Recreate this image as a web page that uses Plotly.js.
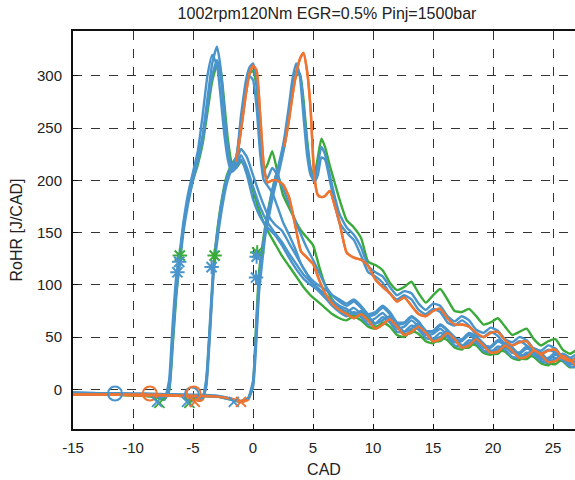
<!DOCTYPE html>
<html><head><meta charset="utf-8">
<script src="https://cdn.plot.ly/plotly-3.0.1.min.js"></script>
<style>html,body{margin:0;padding:0;background:#fff}#chart{width:575px;height:480px}</style>
</head><body><div id="chart"></div>
<script>
// ---- data (CAD grids, RoHR values) ----
const xA = [-15, -12, -9.5, -8, -7.4, -7.0, -6.7, -6.4, -6.1, -5.8, -5.4, -5.0, -4.6, -4.2, -3.8, -3.4, -3.0, -2.7, -2.4, -2.1, -1.8, -1.4, -1.0, -0.5, 0, 0.6, 1.2, 1.8, 2.4, 3.0, 3.6, 4.2, 4.8, 5.4, 6.0, 6.6, 7.2,
  7.8, 8.4, 9.0, 9.6, 10.2, 10.8, 11.4, 12.0, 12.6, 13.2, 13.8, 14.4, 15.0, 15.6, 16.2, 16.8, 17.4, 18.0, 18.6, 19.2, 19.8, 20.4, 21.0, 21.6, 22.2, 22.8, 23.4, 24.0, 24.6, 25.2, 25.8, 26.4, 27.0];
const xB = [-15, -12, -9, -6.5, -5, -4.5, -4.2, -3.9, -3.6, -3.3, -3.0, -2.6, -2.2, -1.8, -1.4, -1.0, -0.6, -0.3, 0, 0.3, 0.6, 0.9, 1.2, 1.6, 2.0, 2.5, 3.0, 3.5, 4.0, 4.5, 5.0, 5.5, 6.0, 6.6, 7.2,
  7.8, 8.4, 9.0, 9.6, 10.2, 10.8, 11.4, 12.0, 12.6, 13.2, 13.8, 14.4, 15.0, 15.6, 16.2, 16.8, 17.4, 18.0, 18.6, 19.2, 19.8, 20.4, 21.0, 21.6, 22.2, 22.8, 23.4, 24.0, 24.6, 25.2, 25.8, 26.4, 27.0];
const xC = [-15, -12, -9, -6, -3, -1.8, -1.0, -0.4, 0, 0.25, 0.5, 0.75, 1.0, 1.4, 1.8, 2.2, 2.6, 3.0, 3.3, 3.6, 3.9, 4.2, 4.5, 4.8, 5.1, 5.4, 5.7, 6.0, 6.4, 6.8, 7.2,
  7.8, 8.4, 9.0, 9.6, 10.2, 10.8, 11.4, 12.0, 12.6, 13.2, 13.8, 14.4, 15.0, 15.6, 16.2, 16.8, 17.4, 18.0, 18.6, 19.2, 19.8, 20.4, 21.0, 21.6, 22.2, 22.8, 23.4, 24.0, 24.6, 25.2, 25.8, 26.4, 27.0];

const yA1 = [-4, -4, -5, -7, -9, 2, 50, 98, 125, 155, 183, 205, 222, 243, 278, 312, 328, 308, 268, 232, 212, 214, 224, 212, 194, 174, 160, 150, 141, 130, 120, 110, 103, 97, 91, 85, 80,
  77, 72, 75, 70, 63, 66, 70, 62, 55, 58, 63, 56, 48, 50, 56, 50, 42, 44, 50, 44, 37, 38, 44, 40, 33, 33, 39, 35, 28, 28, 34, 30, 24];
const yA2 = [-3, -4, -5, -6, -10, 8, 62, 108, 132, 160, 188, 208, 228, 262, 300, 320, 310, 280, 245, 220, 208, 212, 220, 205, 182, 165, 155, 148, 138, 126, 115, 106, 100, 95, 88, 82, 78,
  74, 78, 72, 65, 68, 73, 66, 58, 60, 66, 60, 52, 53, 58, 52, 45, 46, 52, 47, 40, 40, 46, 42, 35, 35, 41, 37, 30, 30, 35, 31, 25, 26];
const yA3 = [-4, -5, -5, -6, -8, 0, 45, 92, 120, 150, 178, 200, 218, 238, 270, 300, 315, 300, 262, 228, 210, 218, 230, 222, 205, 185, 168, 158, 152, 140, 128, 116, 106, 100, 96, 90, 86,
  82, 86, 80, 72, 74, 80, 74, 64, 64, 70, 65, 56, 56, 62, 57, 48, 48, 54, 50, 42, 41, 47, 44, 36, 35, 40, 37, 30, 29, 34, 31, 25, 24];
const yA4 = [-5, -5, -6, -8, -10, -2, 40, 88, 126, 156, 182, 200, 215, 235, 265, 295, 310, 305, 275, 240, 218, 212, 218, 210, 190, 168, 152, 140, 128, 118, 108, 98, 90, 84, 78, 72, 68,
  66, 70, 66, 60, 58, 64, 60, 52, 50, 56, 53, 46, 44, 50, 47, 40, 38, 44, 42, 35, 33, 38, 36, 30, 28, 33, 31, 25, 23, 28, 27, 21, 22];

const yB1 = [-5, -5, -5, -6, -8, -11, -10, 5, 55, 112, 145, 176, 200, 212, 218, 248, 282, 302, 310, 305, 262, 214, 198, 200, 200, 196, 184, 158, 132, 126, 120, 105, 92, 82, 76,
  72, 68, 72, 66, 58, 62, 67, 60, 52, 55, 60, 54, 46, 48, 54, 48, 40, 42, 48, 42, 35, 36, 42, 37, 30, 31, 37, 33, 26, 27, 32, 28, 22];
const yB2 = [-4, -4, -5, -5, -7, -10, -8, 10, 62, 118, 148, 180, 202, 214, 222, 262, 295, 308, 312, 295, 245, 208, 202, 212, 206, 192, 178, 162, 148, 135, 124, 112, 100, 90, 84,
  80, 84, 78, 70, 72, 78, 72, 62, 63, 69, 64, 55, 55, 61, 56, 47, 47, 53, 49, 41, 40, 46, 43, 35, 34, 39, 36, 29, 28, 33, 30, 24, 25];
const yB3 = [-3, -4, -4, -5, -6, -9, -8, 2, 50, 108, 140, 172, 196, 210, 218, 250, 285, 300, 296, 270, 225, 200, 195, 188, 176, 160, 148, 135, 120, 110, 100, 94, 88, 80, 74,
  70, 74, 69, 62, 63, 69, 64, 55, 55, 61, 57, 49, 48, 54, 50, 42, 41, 47, 44, 37, 35, 41, 38, 31, 30, 35, 33, 27, 25, 30, 28, 22, 21];
const yB4 = [-5, -5, -6, -6, -8, -11, -9, 6, 58, 114, 150, 182, 204, 215, 222, 255, 288, 302, 305, 290, 240, 210, 215, 228, 210, 186, 174, 162, 152, 145, 138, 118, 100, 86, 78,
  74, 70, 74, 68, 60, 62, 68, 62, 53, 54, 60, 55, 46, 46, 52, 48, 40, 40, 46, 42, 34, 34, 40, 37, 30, 29, 34, 32, 25, 24, 29, 27, 21];

const yC1 = [-5, -5, -6, -6, -7, -9, -12, -10, 5, 48, 100, 128, 150, 175, 198, 214, 232, 258, 282, 302, 316, 322, 305, 268, 205, 186, 184, 185, 190, 176, 160,
  131, 126, 124, 118, 105, 98, 92, 84, 88, 80, 72, 70, 75, 77, 68, 62, 62, 60, 54, 50, 54, 55, 47, 42, 45, 46, 38, 34, 37, 38, 30, 27, 30];
const yC2 = [-4, -4, -5, -5, -6, -9, -12, -8, 8, 55, 105, 130, 152, 178, 200, 218, 240, 272, 298, 312, 300, 262, 225, 205, 200, 215, 232, 225, 205, 185, 168,
  155, 148, 136, 118, 112, 108, 98, 90, 94, 92, 82, 76, 82, 80, 70, 65, 70, 66, 57, 54, 59, 56, 48, 45, 50, 47, 39, 37, 42, 39, 31, 30, 34];
const yC3 = [-5, -5, -5, -6, -7, -10, -11, -9, 2, 40, 92, 120, 145, 170, 192, 210, 232, 262, 290, 305, 302, 272, 235, 210, 198, 205, 222, 220, 200, 178, 160,
  150, 143, 128, 112, 108, 102, 92, 86, 90, 86, 76, 72, 77, 74, 64, 61, 66, 61, 52, 50, 55, 51, 43, 42, 46, 42, 35, 34, 38, 35, 28, 27, 31];
const yC4 = [-5, -5, -6, -6, -7, -10, -12, -9, 6, 60, 112, 135, 155, 180, 200, 216, 236, 265, 288, 300, 302, 278, 240, 212, 205, 222, 240, 232, 214, 198, 182,
  162, 155, 145, 122, 119, 114, 102, 95, 98, 103, 92, 83, 90, 96, 86, 75, 74, 77, 70, 62, 64, 68, 60, 52, 55, 58, 48, 42, 46, 48, 38, 34, 38];

// markers: circles, crosses, asterisks
const circBlueX = [-11.5, -5.1], circBlueY = [-4, -5];
const circOrgX = [-8.6, -4.95], circOrgY = [-4, -4];
const crossBlueX = [-8.0, -5.5, -1.6], crossBlueY = [-12, -12, -12];
const crossGrnX = [-7.8, -5.3], crossGrnY = [-13, -13];
const crossOrgX = [-4.85, -1.0], crossOrgY = [-12, -12];
const astGrnX = [-6.1, -3.2, 0.35], astGrnY = [128, 128, 131];
const astBlueX = [-6.15, -6.3, -3.45, 0.3, 0.25], astBlueY = [122, 112, 117, 127, 107];

const xTicks = [-15, -10, -5, 0, 5, 10, 15, 20, 25];
const yTicks = [0, 50, 100, 150, 200, 250, 300];

// ---- styling ----
const BLUE = '#4a94cc', ORANGE = '#ee7432', GREEN = '#3aaa3a';
function line(x, y, c) {
  return {x: x, y: y, type: 'scatter', mode: 'lines', line: {color: c, width: 2.4, shape: 'spline', smoothing: 0.5},
          hoverinfo: 'skip', showlegend: false};
}
function mk(x, y, c, sym, size) {
  return {x: x, y: y, type: 'scatter', mode: 'markers', showlegend: false, hoverinfo: 'skip',
          marker: {symbol: sym, size: size, color: c, line: {color: c, width: 2}}};
}
// orange runs are drawn under the blue ones, and their baseline and post-rise parts again on top
const traces = [
  line(xA, yA4, GREEN), line(xB, yB4, GREEN), line(xC, yC4, GREEN),
  line(xB, yB1, ORANGE), line(xC, yC1, ORANGE),
  line(xA, yA1, BLUE), line(xA, yA2, BLUE), line(xA, yA3, BLUE),
  line(xB, yB2, BLUE), line(xB, yB3, BLUE), line(xC, yC2, BLUE), line(xC, yC3, BLUE),
  line(xB.slice(0, 7), yB1.slice(0, 7), ORANGE), line(xB.slice(14), yB1.slice(14), ORANGE),
  line(xC.slice(0, 8), yC1.slice(0, 8), ORANGE), line(xC.slice(16), yC1.slice(16), ORANGE),
  mk(circBlueX, circBlueY, BLUE, 'circle-open', 14),
  mk(circOrgX, circOrgY, ORANGE, 'circle-open', 14),
  mk(crossGrnX, crossGrnY, GREEN, 'x-thin-open', 10),
  mk(crossBlueX, crossBlueY, BLUE, 'x-thin-open', 10),
  mk(crossOrgX, crossOrgY, ORANGE, 'x-thin-open', 10),
  mk(astGrnX, astGrnY, GREEN, 'asterisk-open', 12),
  mk(astBlueX, astBlueY, BLUE, 'asterisk-open', 12)
];
const FONT = 'Liberation Sans, Arial, Helvetica, sans-serif';
const layout = {
  width: 575, height: 480,
  margin: {l: 73, r: 0, t: 31, b: 51, pad: 0},
  paper_bgcolor: '#fff', plot_bgcolor: '#fff',
  font: {family: FONT, size: 15, color: '#222'},
  title: {text: '1002rpm120Nm EGR=0.5% Pinj=1500bar', font: {family: FONT, size: 16, color: '#222'},
          x: 0.5687, xref: 'container', xanchor: 'center', y: 0.972, yref: 'container', yanchor: 'middle'},
  xaxis: {range: [-15, 26.83], tickvals: xTicks, ticktext: xTicks.map(String), showgrid: true,
          gridcolor: '#333', griddash: 'dash', gridwidth: 1, zeroline: false,
          showline: true, linecolor: '#111', linewidth: 2, mirror: true,
          ticks: 'inside', ticklen: 5, tickcolor: '#111', tickfont: {size: 15, color: '#222'}, ticklabelstandoff: 4,
          title: {text: 'CAD', font: {size: 16, color: '#222'}, standoff: 9}},
  yaxis: {range: [-38, 343], tickvals: yTicks, ticktext: yTicks.map(String), showgrid: true,
          gridcolor: '#333', griddash: 'dash', gridwidth: 1, zeroline: false,
          showline: true, linecolor: '#111', linewidth: 2,
          ticks: 'inside', ticklen: 5, tickcolor: '#111', tickfont: {size: 15, color: '#222'}, ticklabelstandoff: 6,
          title: {text: 'RoHR [J/CAD]', font: {size: 16, color: '#222'}, standoff: 10}}
};
Plotly.newPlot('chart', traces, layout, {staticPlot: true, displayModeBar: false});
</script>
</body></html>
